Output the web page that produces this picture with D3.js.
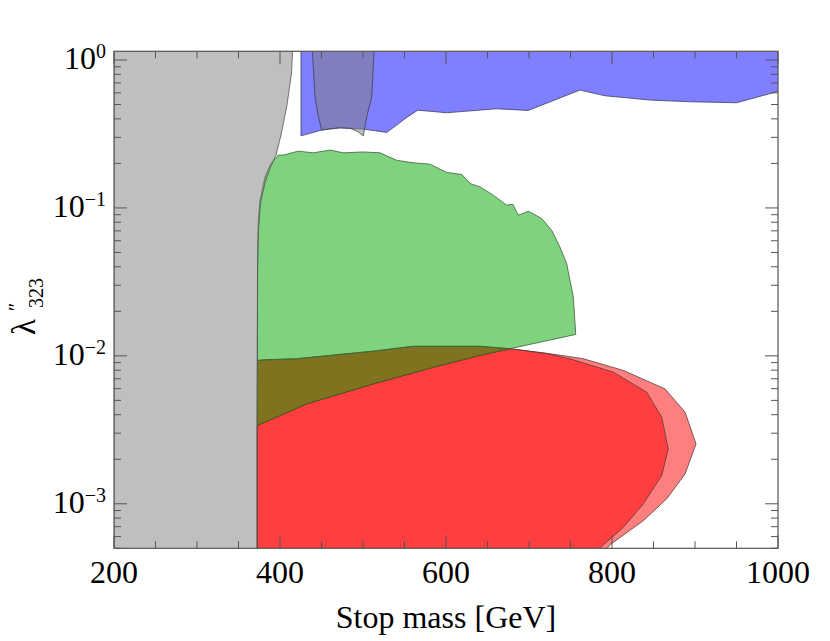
<!DOCTYPE html>
<html>
<head>
<meta charset="utf-8">
<script src="https://cdn.jsdelivr.net/npm/d3@7"></script>
<style>
  body { margin: 0; background: #fff; }
  svg text { font-family: 'Liberation Serif', 'Times New Roman', Tinos, 'DejaVu Serif', serif; fill: #000; }
</style>
</head>
<body>
<div id="chart"></div>
<script>
// values: [stop mass (GeV), lambda''_323]
const xTicks = [200, 400, 600, 800, 1000];
const yExponents = [0, -1, -2, -3];

const grayLeft = [
  [200, 2], [415.3, 2], [415.1, 1.145], [413.9, 0.817], [408.4, 0.496],
  [401.2, 0.311], [395.2, 0.2275], [388, 0.186], [381.9, 0.147],
  [376.5, 0.1076], [374.1, 0.0706], [372.9, 0.0324], [372.3, 0.0049],
  [372.3, 0.00049], [200, 0.00049]
];

const grayLens = [
  [438.8, 2], [439, 1.145], [442.2, 0.564], [445.8, 0.425], [450.2, 0.336],
  [460.2, 0.343], [472.3, 0.348], [484.3, 0.345], [492.8, 0.331],
  [500.4, 0.307], [504.5, 0.413], [510.5, 0.564], [513.3, 1.145], [513.4, 2]
];

const blueBand = [
  [425.3, 2], [425.3, 0.307], [450.2, 0.336], [472.3, 0.348], [484.3, 0.345],
  [502.4, 0.34], [528.6, 0.324], [540.6, 0.363], [552.7, 0.409], [566, 0.458],
  [600.8, 0.44], [661, 0.468], [699, 0.456], [761.4, 0.626], [791.6, 0.573],
  [845.8, 0.536], [894, 0.522], [950.2, 0.514], [998.4, 0.61], [1003, 0.63],
  [1003, 2]
];

const greenRegion = [
  [372.9, 0.0093], [373, 0.0517], [373.9, 0.0826], [375.9, 0.1128],
  [381.9, 0.162], [389.2, 0.2], [398, 0.2275], [404, 0.2275], [422, 0.242],
  [440.1, 0.2357], [460.2, 0.246], [476.3, 0.2357], [500.4, 0.239],
  [520.5, 0.2357], [540.6, 0.21], [560.6, 0.2017], [580.7, 0.1977],
  [600.8, 0.1737], [618.9, 0.1683], [628.9, 0.1463], [641, 0.1387],
  [657, 0.122], [673.1, 0.1043], [680.4, 0.106], [687.1, 0.0893],
  [699.2, 0.095], [715.3, 0.0848], [727.3, 0.0706], [737.3, 0.0544],
  [745.4, 0.042], [753.4, 0.025], [756.3, 0.01396], [677.1, 0.01117],
  [641, 0.0116], [560.6, 0.0116], [512.4, 0.01076], [420.1, 0.00956],
  [381.9, 0.0094]
];

const oliveBand = [
  [372.9, 0.0093], [381.9, 0.0094], [420.1, 0.00956], [512.4, 0.01076],
  [560.6, 0.0116], [641, 0.0116], [677.1, 0.01117], [641, 0.01007],
  [592.8, 0.00861], [512.4, 0.00647], [432.2, 0.00474], [372.6, 0.00338]
];

const redOuter = [
  [372.6, 0.00049], [372.6, 0.00338], [432.2, 0.00474], [512.4, 0.00647],
  [592.8, 0.00861], [641, 0.01007], [677.1, 0.01117], [725.3, 0.01033],
  [765.4, 0.00956], [813.6, 0.00797], [863.9, 0.00598], [888, 0.00416],
  [901.2, 0.00254], [888, 0.00159], [865.9, 0.00108], [837.7, 0.000769],
  [797.6, 0.000529], [793, 0.00049]
];

const redInner = [
  [372.6, 0.00049], [372.6, 0.00338], [432.2, 0.00474], [512.4, 0.00647],
  [592.8, 0.00861], [641, 0.01007], [677.1, 0.01117], [720, 0.0104],
  [753.4, 0.0094], [801.6, 0.00776], [841.8, 0.00568], [859.9, 0.00385],
  [867.8, 0.00235], [859.9, 0.00155], [837.7, 0.000997], [813.6, 0.000692],
  [783, 0.00049]
];

function draw() {
  let dimensions = {
    width: 830,
    height: 641,
    margin: { top: 51.3, bottom: 92.7, left: 114, right: 52 }
  };
  dimensions.ctrWidth = dimensions.width - dimensions.margin.left - dimensions.margin.right;
  dimensions.ctrHeight = dimensions.height - dimensions.margin.top - dimensions.margin.bottom;

  const svg = d3.select('#chart')
    .append('svg')
    .attr('width', dimensions.width)
    .attr('height', dimensions.height)
    .attr('font-family', "'Liberation Serif', 'Times New Roman', Tinos, 'DejaVu Serif', serif");

  const ctr = svg.append('g')
    .attr('transform', `translate(${dimensions.margin.left}, ${dimensions.margin.top})`);

  const xScale = d3.scaleLinear()
    .domain([200, 1000])
    .range([0, dimensions.ctrWidth]);

  const yScale = d3.scaleLog()
    .domain([5e-4, 1.145])
    .range([dimensions.ctrHeight, 0]);

  svg.append('defs').append('clipPath')
    .attr('id', 'plotClip')
    .append('rect')
    .attr('width', dimensions.ctrWidth)
    .attr('height', dimensions.ctrHeight);

  const area = ctr.append('g').attr('clip-path', 'url(#plotClip)');

  const shape = d3.line()
    .x(d => xScale(d[0]))
    .y(d => yScale(d[1]))
    .curve(d3.curveLinearClosed);

  const regions = [
    { pts: redOuter, fill: '#ff0000', op: 0.5, stroke: '#5a3a3a' },
    { pts: redInner, fill: '#ff0000', op: 0.5, stroke: '#5a3a3a' },
    { pts: oliveBand, fill: '#807320', op: 1, stroke: '#3c5a18' },
    { pts: greenRegion, fill: '#00a700', op: 0.5, stroke: '#3f5f3f' },
    { pts: blueBand, fill: '#0000ff', op: 0.5, stroke: '#404060' },
    { pts: grayLeft, fill: '#808080', op: 0.5, stroke: '#555555' },
    { pts: grayLens, fill: '#808080', op: 0.5, stroke: '#404050' }
  ];

  area.selectAll('path')
    .data(regions)
    .join('path')
    .attr('d', d => shape(d.pts))
    .attr('fill', d => d.fill)
    .attr('fill-opacity', d => d.op)
    .attr('stroke', d => d.stroke)
    .attr('stroke-opacity', 0.8)
    .attr('stroke-width', 1)
    .attr('stroke-linejoin', 'round');

  // frame
  ctr.append('rect')
    .attr('width', dimensions.ctrWidth)
    .attr('height', dimensions.ctrHeight)
    .attr('fill', 'none')
    .attr('stroke', '#555')
    .attr('stroke-width', 1.2);

  // ticks
  const xMinor = d3.range(200, 1001, 50).filter(v => !xTicks.includes(v));
  const yMajor = yExponents.map(e => Math.pow(10, e));
  const yMinor = [];
  yExponents.forEach(e => {
    for (let k = 2; k <= 9; k++) {
      const v = k * Math.pow(10, e - 1);
      if (v >= 5e-4 && v <= 1.145) yMinor.push(v);
    }
  });

  const tickG = ctr.append('g').attr('stroke', '#555').attr('stroke-width', 1);
  const xt = [...xTicks.map(v => [v, 13]), ...xMinor.map(v => [v, 7])];
  const yt = [...yMajor.map(v => [v, 13]), ...yMinor.map(v => [v, 7])];

  tickG.selectAll('.xb').data(xt).join('line')
    .attr('x1', d => xScale(d[0])).attr('x2', d => xScale(d[0]))
    .attr('y1', dimensions.ctrHeight).attr('y2', d => dimensions.ctrHeight - d[1]);
  tickG.selectAll('.xt').data(xt).join('line')
    .attr('x1', d => xScale(d[0])).attr('x2', d => xScale(d[0]))
    .attr('y1', 0).attr('y2', d => d[1]);
  tickG.selectAll('.yl').data(yt).join('line')
    .attr('y1', d => yScale(d[0])).attr('y2', d => yScale(d[0]))
    .attr('x1', 0).attr('x2', d => d[1]);
  tickG.selectAll('.yr').data(yt).join('line')
    .attr('y1', d => yScale(d[0])).attr('y2', d => yScale(d[0]))
    .attr('x1', dimensions.ctrWidth).attr('x2', d => dimensions.ctrWidth - d[1]);

  // tick labels
  ctr.append('g').selectAll('text')
    .data(xTicks)
    .join('text')
    .attr('x', d => xScale(d))
    .attr('y', dimensions.ctrHeight + 35)
    .attr('text-anchor', 'middle')
    .attr('font-size', 32)
    .text(d => d);

  const yl = ctr.append('g').selectAll('text')
    .data(yExponents)
    .join('text')
    .attr('x', -8)
    .attr('y', d => yScale(Math.pow(10, d)) + 9)
    .attr('text-anchor', 'end')
    .attr('font-size', 32);
  yl.append('tspan').text('10');
  yl.append('tspan')
    .attr('dy', -11)
    .attr('font-size', 20)
    .text(d => d === 0 ? '0' : '\u2212' + Math.abs(d));

  // axis titles
  svg.append('text')
    .attr('x', dimensions.margin.left + dimensions.ctrWidth / 2)
    .attr('y', 628)
    .attr('text-anchor', 'middle')
    .attr('font-size', 32)
    .text('Stop mass [GeV]');

  const yTitle = svg.append('g').attr('transform', 'translate(35, 335) rotate(-90)');
  yTitle.append('text').attr('x', 0).attr('y', 0).attr('font-size', 33).text('λ');
  yTitle.append('text').attr('x', 24).attr('y', -12).attr('font-size', 20).text('″');
  yTitle.append('text').attr('x', 27).attr('y', 8).attr('font-size', 20).text('323');
}

draw();
</script>
</body>
</html>
